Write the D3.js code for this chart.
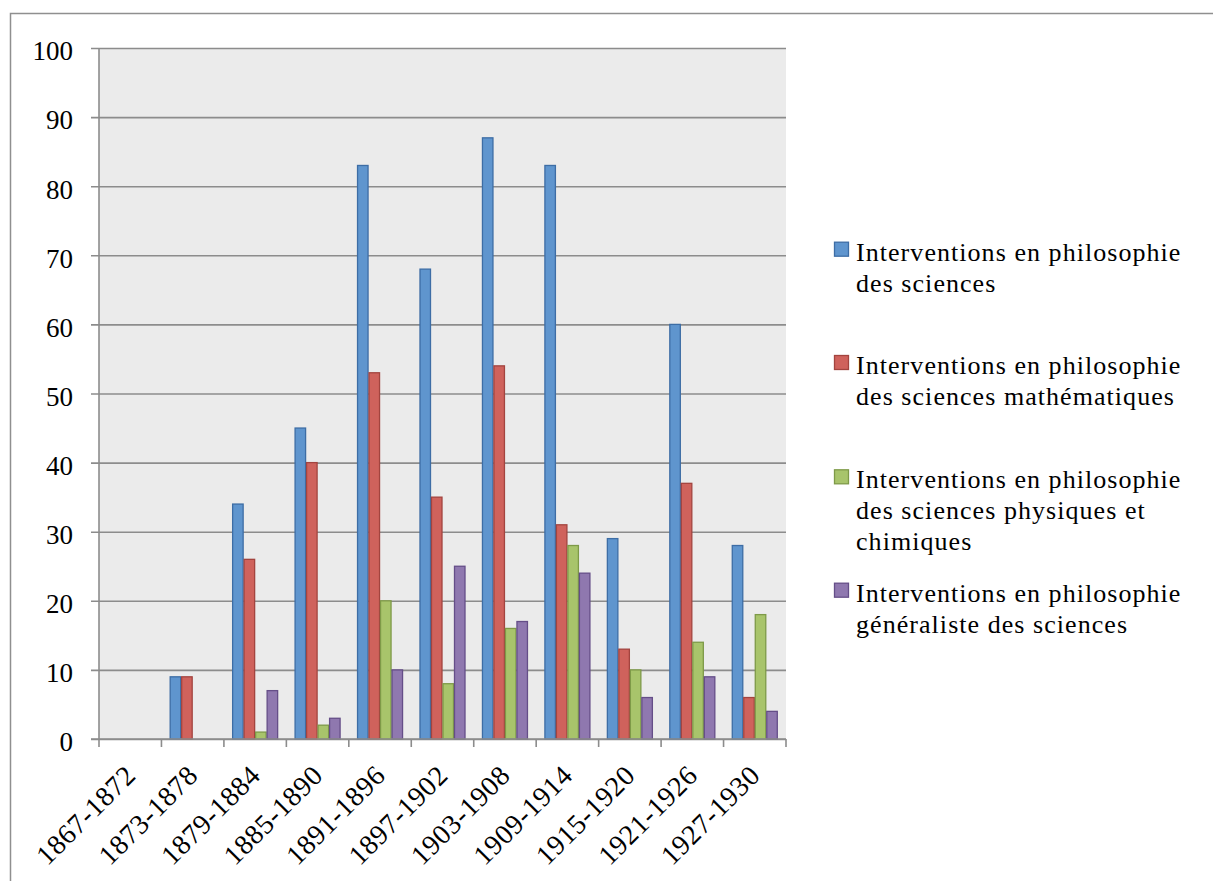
<!DOCTYPE html>
<html><head><meta charset="utf-8">
<script src="https://cdn.jsdelivr.net/npm/d3@7"></script>
<style>body{margin:0;background:#fff}svg{display:block}</style>
</head><body>
<script>
const categories = ["1867-1872","1873-1878","1879-1884","1885-1890","1891-1896","1897-1902","1903-1908","1909-1914","1915-1920","1921-1926","1927-1930"];
const seriesNames = [
  ["Interventions en philosophie","des sciences"],
  ["Interventions en philosophie","des sciences mathématiques"],
  ["Interventions en philosophie","des sciences physiques et","chimiques"],
  ["Interventions en philosophie","généraliste des sciences"]
];
const sciences      = [0, 9, 34, 45, 83, 68, 87, 83, 29, 60, 28];
const mathematiques = [0, 9, 26, 40, 53, 35, 54, 31, 13, 37, 6];
const physiques     = [0, 0, 1, 2, 20, 8, 16, 28, 10, 14, 18];
const generaliste   = [0, 0, 7, 3, 10, 25, 17, 24, 6, 9, 4];
const yTicks = [0,10,20,30,40,50,60,70,80,90,100];

const seriesValues = [sciences, mathematiques, physiques, generaliste];
const fills   = ["#5F95CE","#CF625C","#A8C46B","#8F78AF"];
const strokes = ["#3D6DA5","#A3443F","#7E9A48","#654E88"];

(function(){
const W = 1213, H = 881;
const svg = d3.select("body").append("svg").attr("width", W).attr("height", H);
const font = "'Liberation Serif', 'Times New Roman', serif";

svg.append("rect").attr("x",10.5).attr("y",13.5).attr("width",1300).attr("height",1000)
  .attr("fill","none").attr("stroke","#8f8f8f").attr("stroke-width",1.5);

const pL = 99, pR = 786, pT = 48, pB = 739;
const x = d3.scaleBand().domain(categories).range([pL, pR]).paddingInner(0).paddingOuter(0);
const xs = d3.scaleBand().domain(d3.range(4)).range([0, x.bandwidth()]).paddingInner(0).paddingOuter(0.715);
const y = d3.scaleLinear().domain([0,100]).range([pB, pT]);

svg.append("rect").attr("x",pL).attr("y",pT).attr("width",pR-pL).attr("height",pB-pT).attr("fill","#EBEBEB");

const yAxis = d3.axisLeft(y).tickValues(yTicks).tickSize(-(pR-pL)).tickSizeOuter(0).tickPadding(26);
const gy = svg.append("g").attr("transform",`translate(${pL},0)`).call(yAxis);
gy.select(".domain").remove();
gy.selectAll(".tick line").attr("stroke","#8c8c8c").attr("stroke-width",1.6).attr("x1",-8);
gy.selectAll(".tick text").attr("font-family",font).attr("font-size",27).attr("fill","#000").attr("dy","0.44em");
svg.append("line").attr("x1",pL).attr("x2",pL).attr("y1",pT).attr("y2",pB).attr("stroke","#8c8c8c").attr("stroke-width",1.6);

const groups = svg.append("g").selectAll("g").data(categories).join("g")
  .attr("transform", d => `translate(${x(d)},0)`);
seriesValues.forEach((vals, si) => {
  groups.append("rect")
    .attr("x", xs(si)+0.5)
    .attr("width", xs.bandwidth()-1)
    .attr("y", (d,i) => y(vals[i]))
    .attr("height", (d,i) => pB - y(vals[i]))
    .attr("fill", fills[si]).attr("stroke", strokes[si]).attr("stroke-width",1.3)
    .attr("display", (d,i) => vals[i] > 0 ? null : "none");
});

const xg = svg.append("g");
xg.append("line").attr("x1",pL-8).attr("x2",pR).attr("y1",pB).attr("y2",pB).attr("stroke","#8c8c8c").attr("stroke-width",1.6);
const bounds = categories.map(c => x(c)).concat([pR]);
xg.selectAll("line.tk").data(bounds).join("line").attr("class","tk")
  .attr("x1",d=>d).attr("x2",d=>d).attr("y1",pB).attr("y2",pB+8)
  .attr("stroke","#8c8c8c").attr("stroke-width",1.6);
svg.append("g").selectAll("text").data(categories).join("text")
  .attr("transform", d => `translate(${x(d)+x.bandwidth()/2+7},${pB+38}) rotate(-45)`)
  .attr("text-anchor","end").attr("font-family",font).attr("font-size",28).attr("letter-spacing","0.6px").attr("fill","#000")
  .text(d=>d);

const legendY = [260.7, 374, 488.3, 601.7];
const lg = svg.append("g");
seriesNames.forEach((lines, i) => {
  lg.append("rect").attr("x",834.5).attr("y",legendY[i]-18.5).attr("width",14).attr("height",14)
    .attr("fill",fills[i]).attr("stroke",strokes[i]).attr("stroke-width",1.3);
  const t = lg.append("text").attr("font-family",font).attr("font-size",26).attr("letter-spacing","1.05px").attr("fill","#000");
  lines.forEach((ln, j) => {
    t.append("tspan").attr("x",856).attr("y",legendY[i] + j*31).text(ln);
  });
});
})();
</script>
</body></html>
